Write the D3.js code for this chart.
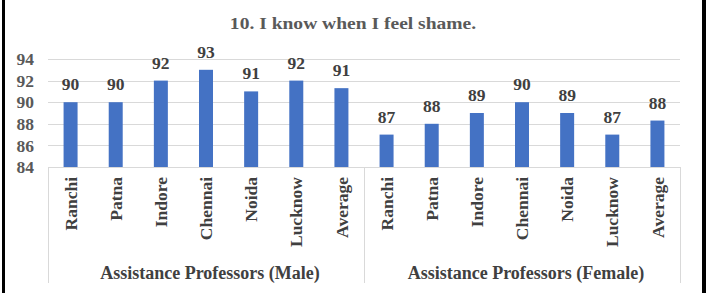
<!DOCTYPE html>
<html>
<head>
<meta charset="utf-8">
<script src="https://cdn.jsdelivr.net/npm/d3@7"></script>
<style>
  body { margin: 0; background: #fff; }
  svg text { font-family: "Liberation Serif", Tinos, "Times New Roman", Times, "DejaVu Serif", serif; font-weight: 700; }
</style>
</head>
<body>
<div id="chart"></div>
<script>
var cities = ["Ranchi", "Patna", "Indore", "Chennai", "Noida", "Lucknow", "Average"];
var groups = ["Assistance Professors (Male)", "Assistance Professors (Female)"];
var maleValues = [90, 90, 92, 93, 91, 92, 91.3];
var femaleValues = [87, 88, 89, 90, 89, 87, 88.3];
var yTicks = [84, 86, 88, 90, 92, 94];

var width = 711, height = 293;
var margin = {left: 48, right: 31, top: 59, bottom: 126};

var data = [];
[maleValues, femaleValues].forEach(function(vals, g) {
    vals.forEach(function(v, i) {
        data.push({key: g + "-" + cities[i], city: cities[i], group: g, value: v});
    });
});

var svg = d3.select("#chart").append("svg")
    .attr("width", width)
    .attr("height", height)
    .style("display", "block");

// frame lines on the sides
svg.append("rect").attr("x", 2).attr("y", 0).attr("width", 3).attr("height", height).attr("fill", "#000");
svg.append("rect").attr("x", 702).attr("y", 0).attr("width", 4).attr("height", height).attr("fill", "#000");

var x = d3.scaleBand()
    .domain(data.map(function(d) { return d.key; }))
    .range([margin.left, width - margin.right])
    .paddingInner(0.69)
    .paddingOuter(0.345);

var y = d3.scaleLinear()
    .domain([84, 94])
    .range([height - margin.bottom, margin.top]);

// title (slightly wide in the original)
svg.append("text")
    .attr("transform", "translate(353,29) scale(1.15,1)")
    .attr("text-anchor", "middle")
    .attr("fill", "#595959")
    .style("font-size", "17px")
    .text("10. I know when I feel shame.");

// gridlines
svg.append("g").selectAll("line")
    .data(yTicks)
    .enter().append("line")
    .attr("x1", margin.left)
    .attr("x2", width - margin.right)
    .attr("y1", function(d) { return Math.round(y(d)) + 0.5; })
    .attr("y2", function(d) { return Math.round(y(d)) + 0.5; })
    .attr("stroke", "#d9d9d9")
    .attr("stroke-width", 1);

// y tick labels
svg.append("g").selectAll("text")
    .data(yTicks)
    .enter().append("text")
    .attr("x", 34)
    .attr("y", function(d) { return y(d); })
    .attr("dy", "0.35em")
    .attr("text-anchor", "end")
    .attr("fill", "#595959")
    .style("font-size", "17.5px")
    .text(function(d) { return d; });

// group separators
var step = x.step();
var sepX = [margin.left, margin.left + step * cities.length, width - margin.right];
svg.append("g").selectAll("line")
    .data(sepX)
    .enter().append("line")
    .attr("x1", function(d) { return Math.round(d) + 0.5; })
    .attr("x2", function(d) { return Math.round(d) + 0.5; })
    .attr("y1", y(84))
    .attr("y2", 283)
    .attr("stroke", "#d9d9d9")
    .attr("stroke-width", 1);

// bars
svg.append("g").selectAll("rect")
    .data(data)
    .enter().append("rect")
    .attr("x", function(d) { return x(d.key); })
    .attr("y", function(d) { return y(d.value); })
    .attr("width", x.bandwidth())
    .attr("height", function(d) { return y(84) - y(d.value); })
    .attr("fill", "#4472c4");

// value labels
svg.append("g").selectAll("text")
    .data(data)
    .enter().append("text")
    .attr("x", function(d) { return x(d.key) + x.bandwidth() / 2; })
    .attr("y", function(d) { return y(d.value) - 12; })
    .attr("text-anchor", "middle")
    .attr("fill", "#404040")
    .style("font-size", "17.5px")
    .text(function(d) { return Math.round(d.value); });

// category labels (rotated)
svg.append("g").selectAll("text")
    .data(data)
    .enter().append("text")
    .attr("transform", function(d) {
        return "translate(" + (x(d.key) + x.bandwidth() / 2) + ",177) rotate(-90)";
    })
    .attr("text-anchor", "end")
    .attr("dy", "0.35em")
    .attr("fill", "#404040")
    .style("font-size", "17.5px")
    .text(function(d) { return d.city; });

// group labels
svg.append("g").selectAll("text")
    .data(groups)
    .enter().append("text")
    .attr("x", function(d, i) { return margin.left + step * cities.length * (i + 0.5) + 4; })
    .attr("y", 279)
    .attr("text-anchor", "middle")
    .attr("fill", "#404040")
    .style("font-size", "18px")
    .text(function(d) { return d; });
</script>
</body>
</html>
